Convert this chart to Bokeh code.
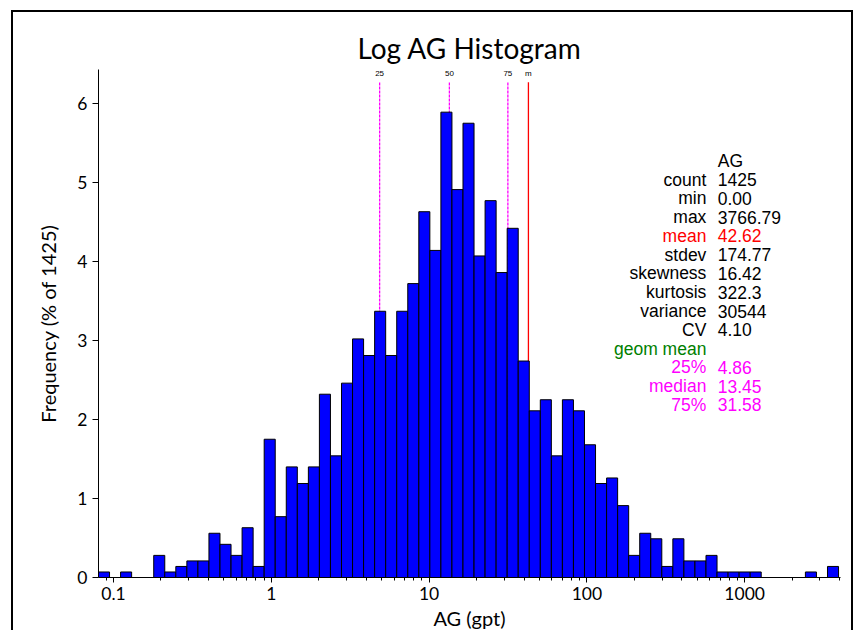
from bokeh.plotting import figure
from bokeh.models import FixedTicker, Range1d, CustomJSTickFormatter, ColumnDataSource
from bokeh.embed import file_html
from bokeh.resources import INLINE
from bokeh.core.properties import value

# Histogram of log AG: frequency (% of 1425 samples) in 67 equal log-width bins
freq_pct = [0.07, 0.00, 0.07, 0.00, 0.00, 0.28, 0.07, 0.14, 0.21, 0.21,
            0.56, 0.42, 0.28, 0.63, 0.14, 1.75, 0.77, 1.40, 1.19, 1.40,
            2.32, 1.54, 2.46, 3.02, 2.81, 3.37, 2.81, 3.37, 3.72, 4.63,
            4.14, 5.89, 4.91, 5.75, 4.07, 4.77, 3.86, 4.42, 2.74, 2.11,
            2.25, 1.54, 2.25, 2.11, 1.68, 1.19, 1.26, 0.91, 0.28, 0.56,
            0.49, 0.14, 0.49, 0.21, 0.21, 0.28, 0.07, 0.07, 0.07, 0.07,
            0.00, 0.00, 0.00, 0.00, 0.07, 0.00, 0.14]
log_start = -1.095   # log10 of the first bin edge
log_width = 0.070    # bin width in decades

# quantile / mean markers
marker_values = [4.86, 13.45, 31.58]
marker_tags = ["25", "50", "75"]
mean_value = 42.62

# summary table
stat_names = ["", "count", "min", "max", "mean", "stdev", "skewness", "kurtosis",
              "variance", "CV", "geom mean", "25%", "median", "75%"]
stat_values = ["AG", "1425", "0.00", "3766.79", "42.62", "174.77", "16.42", "322.3",
               "30544", "4.10", "", "4.86", "13.45", "31.58"]
stat_colors = ["black", "black", "black", "black", "#ff0000", "black", "black", "black",
               "black", "black", "#008000", "#ff00ff", "#ff00ff", "#ff00ff"]

x_major = [0.1, 1, 10, 100, 1000]
x_minor = [0.08, 0.09] + [m * d for d in (0.1, 1, 10, 100) for m in range(2, 10)] + [2000, 3000, 4000]
y_major = [0, 1, 2, 3, 4, 5, 6]

LABEL_FONT = "Lato"
STAT_FONT = "Liberation Sans"

p = figure(width=842, height=620, x_axis_type="log",
           x_range=Range1d(10 ** log_start, 4050), y_range=Range1d(0, 6.43),
           output_backend="svg", toolbar_location=None,
           min_border_left=85, min_border_right=15, min_border_top=57, min_border_bottom=54,
           title="Log AG Histogram")
p.styles = {"margin-left": "11px", "margin-top": "10px",
            "border-top": "2px solid black", "border-left": "2px solid black",
            "border-right": "2px solid black"}

p.title.align = "center"
p.title.text_font = LABEL_FONT
p.title.text_font_size = "28px"
p.title.text_font_style = "normal"
p.title.text_color = "black"
p.title.standoff = 9

p.xgrid.visible = False
p.ygrid.visible = False
p.outline_line_color = None
p.background_fill_color = "white"
p.border_fill_color = "white"

# marker lines sit behind the bars
for v in marker_values:
    p.segment(x0=[v], y0=[0], x1=[v], y1=[6.27], line_color="#ff00ff",
              line_width=1.3, line_dash="3 1")
p.segment(x0=[mean_value], y0=[0], x1=[mean_value], y1=[6.27], line_color="#ff0000", line_width=1.3)
p.text(x=marker_values + [mean_value], y=[6.385] * 4, text=marker_tags + ["m"],
       text_font=value(STAT_FONT), text_font_size="8px", text_align="center",
       text_baseline="middle", text_color="black")

# bars (empty bins are not drawn)
lefts, rights, tops = [], [], []
for i, f in enumerate(freq_pct):
    if f > 0:
        lefts.append(10 ** (log_start + i * log_width))
        rights.append(10 ** (log_start + (i + 1) * log_width))
        tops.append(f)
bars = ColumnDataSource(dict(left=lefts, right=rights, top=tops, bottom=[0] * len(tops)))
p.quad(left="left", right="right", top="top", bottom="bottom", source=bars,
       fill_color="#0000ff", line_color="black", line_width=1)

# summary statistics table
row_y = [5.273 - 0.2375 * i for i in range(len(stat_names))]
table = ColumnDataSource(dict(y=row_y, name=stat_names, val=stat_values, color=stat_colors))
p.text(x=572, y="y", text="name", source=table, text_color="color",
       text_font=value(STAT_FONT), text_font_size="17.5px", text_align="right",
       text_baseline="middle")
p.text(x=675, y="y", text="val", source=table, text_color="color",
       text_font=value(STAT_FONT), text_font_size="17.5px", text_align="left",
       text_baseline="middle")

# axes
xa = p.xaxis[0]
xa.ticker = FixedTicker(ticks=x_major, minor_ticks=x_minor)
xa.formatter = CustomJSTickFormatter(code="return tick.toString();")
xa.axis_label = "AG (gpt)"
xa.major_tick_out = 5
xa.major_tick_in = 0
xa.minor_tick_out = 3
xa.minor_tick_in = 0

ya = p.yaxis[0]
ya.ticker = FixedTicker(ticks=y_major, minor_ticks=[])
ya.axis_label = "Frequency (% of 1425)"
ya.major_tick_out = 6
ya.major_tick_in = 0
ya.minor_tick_out = 0
ya.minor_tick_in = 0

for ax in (xa, ya):
    ax.axis_line_color = "black"
    ax.major_tick_line_color = "black"
    ax.minor_tick_line_color = "black"
    ax.major_label_text_font = LABEL_FONT
    ax.major_label_text_font_size = "17.5px"
    ax.major_label_text_color = "black"
    ax.axis_label_text_font = LABEL_FONT
    ax.axis_label_text_font_size = "20px"
    ax.axis_label_text_font_style = "normal"
    ax.axis_label_text_color = "black"
xa.major_label_standoff = 4
xa.axis_label_standoff = 3
ya.major_label_standoff = 5
ya.axis_label_standoff = 14

open("out.html", "w").write(file_html(p, INLINE))
